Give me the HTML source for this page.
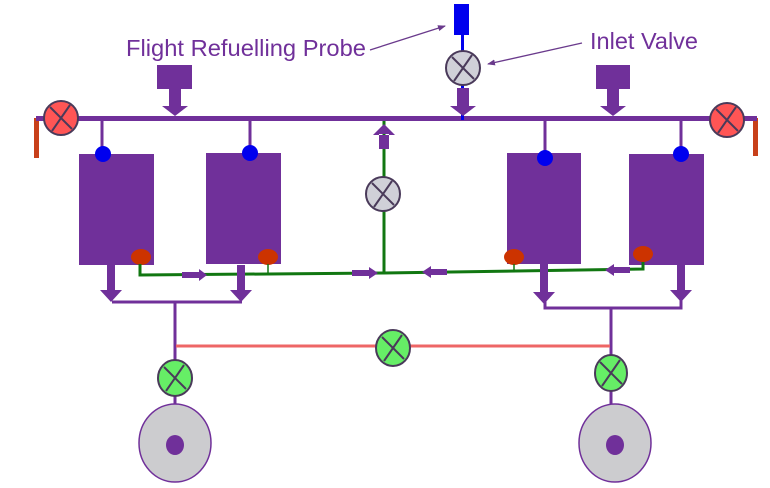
<!DOCTYPE html>
<html><head><meta charset="utf-8"><style>html,body{margin:0;padding:0;background:#fff;}svg{display:block}</style></head>
<body>
<svg width="770" height="488" viewBox="0 0 770 488" xmlns="http://www.w3.org/2000/svg">
<defs>
<marker id="ah" markerWidth="8" markerHeight="8" refX="7" refY="4" orient="auto" markerUnits="userSpaceOnUse"><path d="M0,1 L8,4 L0,7 z" fill="#6a3a8c"/></marker>
</defs>
<text x="126" y="56" font-family="Liberation Sans, sans-serif" font-size="23" fill="#70309a" textLength="240" lengthAdjust="spacingAndGlyphs">Flight Refuelling Probe</text>
<text x="590" y="49" font-family="Liberation Sans, sans-serif" font-size="23" fill="#70309a" textLength="108" lengthAdjust="spacingAndGlyphs">Inlet Valve</text>
<line x1="370" y1="50" x2="445" y2="26" stroke="#6a3a8c" stroke-width="1.3" marker-end="url(#ah)"/>
<line x1="582" y1="43" x2="488" y2="64" stroke="#6a3a8c" stroke-width="1.3" marker-end="url(#ah)"/>
<rect x="34" y="118" width="5" height="40" fill="#c8401a"/>
<rect x="753" y="118" width="5" height="38" fill="#c8401a"/>
<rect x="36" y="116" width="721" height="5" fill="#70309a"/>
<rect x="454" y="4" width="15" height="31" fill="#0000ee"/>
<rect x="461" y="35" width="3" height="85" fill="#0000ee"/>
<rect x="157" y="65" width="35" height="24" fill="#70309a"/>
<rect x="169" y="89" width="12" height="17" fill="#70309a"/><path d="M162,106 L188,106 L175,116 z" fill="#70309a"/>
<rect x="596" y="65" width="34" height="24" fill="#70309a"/>
<rect x="607" y="89" width="12" height="17" fill="#70309a"/><path d="M600,106 L626,106 L613,116 z" fill="#70309a"/>
<rect x="457" y="88" width="12" height="18" fill="#70309a"/><path d="M450,106 L476,106 L463,116 z" fill="#70309a"/>
<g stroke="#70309a" stroke-width="3">
<line x1="102" y1="120" x2="102" y2="154"/><line x1="250" y1="120" x2="250" y2="153"/>
<line x1="545" y1="120" x2="545" y2="156"/><line x1="681" y1="120" x2="681" y2="154"/>
</g>
<rect x="79" y="154" width="75" height="111" fill="#70309a"/>
<rect x="206" y="153" width="75" height="111" fill="#70309a"/>
<rect x="507" y="153" width="74" height="111" fill="#70309a"/>
<rect x="629" y="154" width="75" height="111" fill="#70309a"/>
<g fill="#0000ee"><circle cx="103" cy="154" r="8"/><circle cx="250" cy="153" r="8"/><circle cx="545" cy="158" r="8"/><circle cx="681" cy="154" r="8"/></g>
<g fill="#cc3300"><ellipse cx="141" cy="257" rx="10" ry="8"/><ellipse cx="268" cy="257" rx="10" ry="8"/><ellipse cx="514" cy="257" rx="10" ry="8"/><ellipse cx="643" cy="254" rx="10" ry="8"/></g>
<g stroke="#117711" fill="none">
<line x1="384" y1="121" x2="384" y2="274" stroke-width="3"/>
<path d="M140,264 L140,275 L384,273 L643,269 L643,262" stroke-width="3"/>
<line x1="268" y1="264" x2="268" y2="274" stroke-width="1.5"/>
<line x1="514" y1="264" x2="514" y2="272" stroke-width="1.5"/>
</g>
<g fill="#70309a">
<path d="M379,134 L389,134 L389,149 L379,149 z M373,135 L395,135 L384,124 z"/>
<path d="M182,272 L199,272 L199,269 L207,275 L199,281 L199,278 L182,278 z"/>
<path d="M352,270 L369,270 L369,267 L378,273 L369,279 L369,276 L352,276 z"/>
<path d="M447,269 L431,269 L431,266 L422,272 L431,278 L431,275 L447,275 z"/>
<path d="M630,267 L614,267 L614,264 L605,270 L614,276 L614,273 L630,273 z"/>
</g>
<g fill="#70309a">
<rect x="107" y="265" width="8" height="25"/><path d="M100,290 L122,290 L111,302 z"/>
<rect x="237" y="265" width="8" height="25"/><path d="M230,290 L252,290 L241,302 z"/>
<rect x="540" y="264" width="8" height="30"/><path d="M533,292 L555,292 L544,304 z"/>
<rect x="677" y="265" width="8" height="27"/><path d="M670,290 L692,290 L681,302 z"/>
</g>
<g stroke="#70309a" stroke-width="3" fill="none">
<path d="M112,302 L242,302"/><line x1="175" y1="302" x2="175" y2="408"/>
<path d="M545,300 L545,308 L681,308 L681,300"/><line x1="611" y1="308" x2="611" y2="408"/>
</g>
<line x1="176" y1="346" x2="610" y2="346" stroke="#ee6666" stroke-width="3"/>
<g stroke="#4a3a5a" stroke-width="2">
<circle cx="61" cy="118" r="17" fill="#ff5555"/>
<circle cx="727" cy="120" r="17" fill="#ff5555"/>
<circle cx="463" cy="68" r="17" fill="#d0d0d8"/>
<circle cx="383" cy="194" r="17" fill="#d0d0d8"/>
<ellipse cx="393" cy="348" rx="17" ry="18" fill="#66ee66"/>
<ellipse cx="175" cy="378" rx="17" ry="18" fill="#66ee66"/>
<ellipse cx="611" cy="373" rx="16" ry="18" fill="#66ee66"/>
</g>
<g stroke="#4a3a5a" stroke-width="2">
<path d="M50,107 L72,129 M70,105 L52,131"/>
<path d="M716,109 L738,131 M736,107 L718,133"/>
<path d="M452,57 L474,79 M472,55 L454,81"/>
<path d="M372,183 L394,205 M392,181 L374,207"/>
<path d="M382,337 L404,359 M402,335 L384,361"/>
<path d="M164,367 L186,389 M184,365 L166,391"/>
<path d="M600,362 L622,384 M620,360 L602,386"/>
</g>
<ellipse cx="175" cy="443" rx="36" ry="39" fill="#cccccf" stroke="#70309a" stroke-width="1.5"/>
<ellipse cx="175" cy="445" rx="9" ry="10" fill="#70309a"/>
<ellipse cx="615" cy="443" rx="36" ry="39" fill="#cccccf" stroke="#70309a" stroke-width="1.5"/>
<ellipse cx="615" cy="445" rx="9" ry="10" fill="#70309a"/>
</svg>
</body></html>
